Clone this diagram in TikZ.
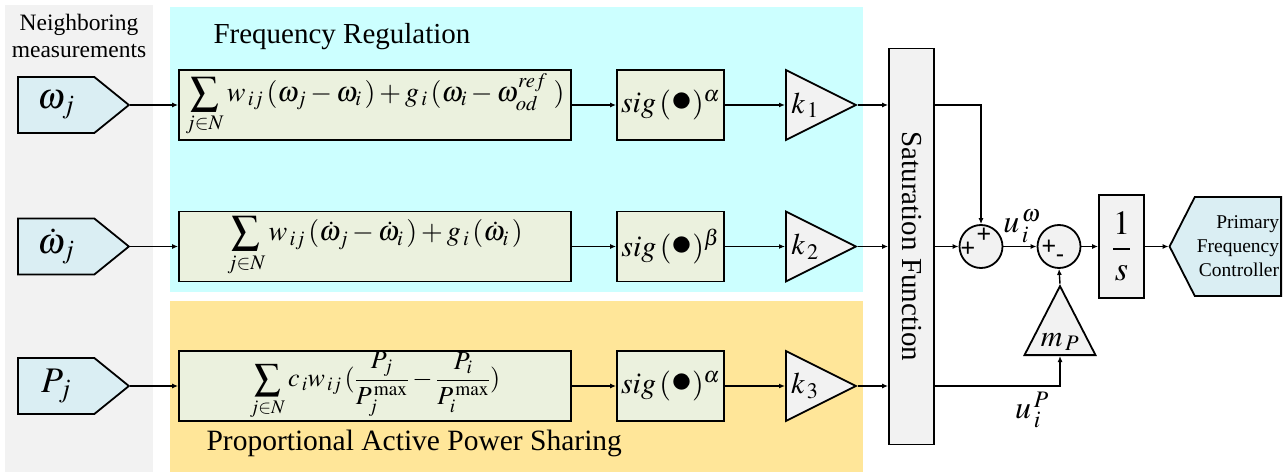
\documentclass[tikz,border=0pt]{standalone}
\usepackage{amsmath}
\usepackage{mathptmx}
\usepackage{graphicx}
\usepackage[no-math]{fontspec}
\setmainfont{Liberation Serif}
\setsansfont{Liberation Sans}
\usetikzlibrary{shapes.geometric,shapes.symbols,arrows.meta}

\definecolor{bgGray}{RGB}{242,242,242}
\definecolor{bgCyan}{RGB}{204,255,255}
\definecolor{bgOrange}{RGB}{255,230,153}
\definecolor{blockFill}{RGB}{235,241,222}
\definecolor{inFill}{RGB}{218,238,243}
\definecolor{gainFill}{RGB}{242,242,242}

\newcommand{\fsz}[1]{\fontsize{#1}{#1}\selectfont}
\newcommand{\bigdot}{\raisebox{0.1ex}{\scalebox{1.4}{$\bullet$}}}

\tikzset{
  blockbox/.style={draw,line width=1.8pt,fill=blockFill,minimum height=70pt,inner sep=0pt},
  gain/.style={draw,line width=1.8pt,fill=gainFill,isosceles triangle,
    isosceles triangle stretches,minimum width=70pt,minimum height=70pt,inner sep=0pt,font=\fsz{30}},
  measure/.style={draw,line width=1.8pt,fill=inFill,signal,signal to=east,
    signal pointer angle=78,minimum width=111pt,minimum height=56pt,inner sep=0pt,font=\fsz{36}},
  sumnode/.style={draw,circle,line width=1.8pt,fill=gainFill,minimum size=43pt,inner sep=0pt},
  sign/.style={font=\sffamily\fsz{25},inner sep=0pt},
  conn/.style={line width=1.4pt,-{Latex[length=6pt,width=5pt]}},
}

\begin{document}
\begin{tikzpicture}[x=1pt,y=-1pt]
  \useasboundingbox (0,0) rectangle (1283,473);
  % background areas
  \fill[bgGray] (5,5) rectangle (153,472);
  \fill[bgCyan] (170,7) rectangle (863,292);
  \fill[bgOrange] (170,301) rectangle (863,472);

  \node[align=center,font=\fsz{23.5}] (nbr) at (79,36) {Neighboring\\[3pt]measurements};
  \node[anchor=west,font=\fsz{29}] (frtitle) at (210,37) {Frequency Regulation};
  \node[anchor=west,font=\fsz{29.5}] (shtitle) at (203,443) {Proportional Active Power Sharing};

  % measurements
  \node[measure,anchor=west] (wj) at (17,105) {$\omega_j$};
  \node[measure,anchor=west] (dwj) at (17,246.5) {$\dot\omega_j$};
  \node[measure,anchor=west] (pj) at (17,386) {$P_j$};

  % consensus terms
  \node[blockbox,minimum width=392pt,font=\fsz{28}] (fr1) at (375,105)
    {$\displaystyle\sum_{j\in N}w_{\,ij}\,(\omega_j-\omega_i\,)+g_{\,i}\,(\omega_i-\omega^{ref}_{od}\;)$};
  \node[blockbox,minimum width=392pt,font=\fsz{28}] (fr2) at (375,246.5)
    {$\displaystyle\sum_{j\in N}w_{\,ij}\,(\dot\omega_j-\dot\omega_i\,)+g_{\,i}\,(\dot\omega_i\,)$};
  \node[blockbox,minimum width=392pt,font=\fsz{26}] (ps) at (375,386)
    {$\displaystyle\sum_{j\in N}c_{\,i}w_{\,ij}\,(\frac{P_j}{P_j^{\,\max}}-\frac{P_i}{P_i^{\,\max}})$};

  \node[blockbox,minimum width=107pt,font=\fsz{30}] (sg1) at (670.5,105) {$sig\,(\bigdot)^{\alpha}$};
  \node[blockbox,minimum width=107pt,font=\fsz{30}] (sg2) at (670.5,246.5) {$sig\,(\bigdot)^{\beta}$};
  \node[blockbox,minimum width=107pt,font=\fsz{30}] (sg3) at (670.5,386) {$sig\,(\bigdot)^{\alpha}$};

  \node[gain,anchor=lower side] (k1) at (785,105) {$k_{\,1}$};
  \node[gain,anchor=lower side] (k2) at (785,246.5) {$k_{\,2}$};
  \node[gain,anchor=lower side] (k3) at (785,386) {$k_{\,3}$};

  \node[draw,line width=1.8pt,fill=gainFill,minimum width=45pt,minimum height=396pt,
    inner sep=0pt,font=\fsz{29}] (sat) at (911.5,246.5) {\rotatebox{-90}{Saturation Function}};

  % summing junctions and output
  \node[sumnode] (sum1) at (981,246.5) {};
  \node[sign] (s1a) at (968,249) {+};
  \node[sign] (s1b) at (984,235) {+};
  \node[sumnode] (sum2) at (1059,246.5) {};
  \node[sign] (s2a) at (1049,247) {+};
  \node[sign] (s2b) at (1060,259) {-};

  \node[gain,shape border rotate=90,minimum width=71pt,minimum height=69pt,
    anchor=lower side] (mp) at (1060,356) {$m_{\,P}$};

  \node[draw,line width=1.8pt,fill=gainFill,minimum width=45pt,minimum height=103pt,
    inner sep=0pt,font=\fsz{34}] (intg) at (1121.5,246.5) {$\dfrac{1}{s}$};

  \node[draw,line width=1.8pt,fill=inFill,signal,signal to=west,signal pointer angle=126,
    minimum width=107pt,minimum height=99pt,inner sep=2pt,align=right,
    font=\fontsize{19.5}{24}\selectfont,anchor=east] (pfc) at (1282,246.5)
    {Primary\\Frequency\\Controller};

  \node[font=\fsz{32}] (uw) at (1022,226) {$u_{\,i}^{\,\omega}$};
  \node[font=\fsz{32}] (up) at (1032,410) {$u_{\,i}^{\,P}$};

  % connectors
  \draw[conn] (wj.east) -- (fr1.west);
  \draw[conn] (dwj.east) -- (fr2.west);
  \draw[conn] (pj.east) -- (ps.west);
  \draw[conn] (fr1.east) -- (sg1.west);
  \draw[conn] (fr2.east) -- (sg2.west);
  \draw[conn] (ps.east) -- (sg3.west);
  \draw[conn] (sg1.east) -- (k1.lower side);
  \draw[conn] (sg2.east) -- (k2.lower side);
  \draw[conn] (sg3.east) -- (k3.lower side);
  \draw[conn] (k1.apex) -- (k1.apex -| sat.west);
  \draw[conn] (k2.apex) -- (k2.apex -| sat.west);
  \draw[conn] (k3.apex) -- (k3.apex -| sat.west);
  \draw[conn] (sat.east |- k1.apex) -| (sum1.north);
  \draw[conn] (sat.east |- k2.apex) -- (sum1.west);
  \draw[conn] (sat.east |- k3.apex) -| (mp.lower side);
  \draw[conn] (sum1.east) -- (sum2.west);
  \draw[conn] (mp.apex) -- (sum2.south);
  \draw[conn] (sum2.east) -- (intg.west);
  \draw[conn] (intg.east) -- (pfc.west);
\end{tikzpicture}
\end{document}
